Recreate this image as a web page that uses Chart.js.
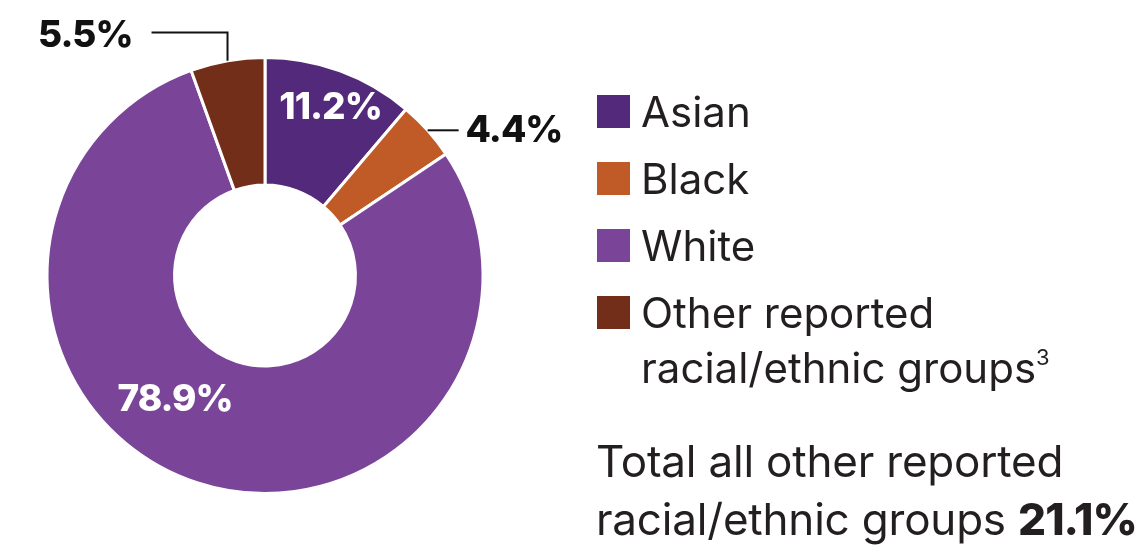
<!DOCTYPE html>
<html>
<head>
<meta charset="utf-8">
<script src="https://cdn.jsdelivr.net/npm/chart.js@4"></script>
<style>
  html, body { margin: 0; padding: 0; background: #fff; }
  body { width: 1138px; height: 546px; position: relative; overflow: hidden; font-family: Inter, "Noto Sans", sans-serif; color: #231f20; }
  #chartBox { position: absolute; left: 0; top: 0; width: 600px; height: 546px; }
  #legend { position: absolute; left: 597px; top: 84px; margin: 0; padding: 0; list-style: none; }
  #legend li { display: flex; align-items: flex-start; font-size: 42px; line-height: 55px; margin-bottom: 12px; }
  #legend .swatch { width: 33px; height: 33px; flex: none; margin: 11px 11px 0 0; }
  #legend sup { font-size: 22px; vertical-align: 0; position: relative; top: -18px; margin-left: 0; }
  #total { position: absolute; left: 596px; top: 432px; font-size: 44px; line-height: 58px; letter-spacing: -0.2px; }
  #total b { font-weight: 800; letter-spacing: -1px; }
</style>
</head>
<body>
<div id="chartBox"><canvas id="raceChart"></canvas></div>
<ul id="legend"></ul>
<div id="total"></div>

<script>
// Part des groupes déclarés (en %)
const groups = ['Asian', 'Black', 'White', 'Other reported racial/ethnic groups'];
const shares = [11.2, 4.4, 78.9, 5.5];
const colors = ['#52297b', '#c05a27', '#7a4599', '#722e18'];

// Placement des étiquettes : dedans (t = position le long de l'arc, r = fraction du rayon) ou dehors avec trait
const labelPlacement = [
    { mode: 'inside', t: 0.53, r: 0.825, size: 37 },
    { mode: 'right', len: 31, gap: 7, size: 37 },
    { mode: 'inside', t: 0.562, r: 0.705, size: 37 },
    { mode: 'elbow', up: 243, left: 76, gap: 19, size: 37 }
];

// Total des groupes autres que "White"
const otherTotal = shares.reduce((s, v, i) => groups[i] === 'White' ? s : s + v, 0);

// Légende HTML
const legend = document.getElementById('legend');
groups.forEach((g, i) => {
    const li = document.createElement('li');
    const label = g === 'Other reported racial/ethnic groups'
        ? 'Other reported<br>racial/ethnic groups<sup>3</sup>'
        : g;
    li.innerHTML = `<span class="swatch" style="background:${colors[i]}"></span><span>${label}</span>`;
    legend.appendChild(li);
});
document.getElementById('total').innerHTML =
    `Total all other reported<br>racial/ethnic groups <b>${otherTotal.toFixed(1)}%</b>`;

// Étiquettes de valeur sur les parts
const sliceLabels = {
    id: 'sliceLabels',
    afterDatasetsDraw(chart) {
        const ctx = chart.ctx;
        const arcs = chart.getDatasetMeta(0).data;
        arcs.forEach((arc, i) => {
            const p = arc.getProps(['x', 'y', 'startAngle', 'endAngle', 'outerRadius'], true);
            const opt = labelPlacement[i];
            const text = shares[i].toFixed(1) + '%';
            ctx.save();
            ctx.font = `800 ${opt.size}px Inter, sans-serif`;
            ctx.letterSpacing = '-1px';
            ctx.textBaseline = 'middle';
            if (opt.mode === 'inside') {
                const a = p.startAngle + (p.endAngle - p.startAngle) * opt.t;
                const r = p.outerRadius * opt.r;
                ctx.fillStyle = '#fff';
                ctx.textAlign = 'center';
                ctx.fillText(text, p.x + r * Math.cos(a), p.y + r * Math.sin(a));
            } else {
                const a = (p.startAngle + p.endAngle) / 2;
                const x0 = p.x + p.outerRadius * Math.cos(a);
                const y0 = p.y + p.outerRadius * Math.sin(a);
                ctx.strokeStyle = '#111';
                ctx.lineWidth = 2;
                ctx.fillStyle = '#111';
                ctx.beginPath();
                if (opt.mode === 'right') {
                    ctx.moveTo(x0, y0);
                    ctx.lineTo(x0 + opt.len, y0);
                    ctx.stroke();
                    ctx.textAlign = 'left';
                    ctx.fillText(text, x0 + opt.len + opt.gap, y0 + 1);
                } else {
                    const yTop = p.y - opt.up;
                    ctx.moveTo(x0, y0);
                    ctx.lineTo(x0, yTop);
                    ctx.lineTo(x0 - opt.left, yTop);
                    ctx.stroke();
                    ctx.textAlign = 'right';
                    ctx.fillText(text, x0 - opt.left - opt.gap, yTop + 3);
                }
            }
            ctx.restore();
        });
    }
};

new Chart(document.getElementById('raceChart'), {
    type: 'doughnut',
    data: {
        labels: groups,
        datasets: [{
            data: shares,
            backgroundColor: colors,
            borderColor: '#fff',
            borderWidth: 3
        }]
    },
    options: {
        responsive: true,
        maintainAspectRatio: false,
        animation: false,
        cutout: '41.5%',
        layout: { padding: { top: 56, bottom: 51, right: 70 } },
        plugins: {
            legend: { display: false },
            tooltip: { enabled: false }
        }
    },
    plugins: [sliceLabels]
});
</script>
</body>
</html>
